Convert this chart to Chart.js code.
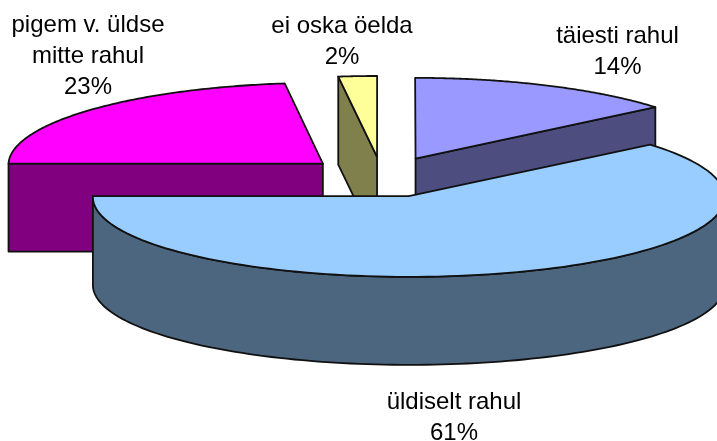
<!DOCTYPE html>
<html>
<head>
<meta charset="utf-8">
<style>
html, body { margin: 0; padding: 0; background: #fff; overflow: hidden; }
#wrap { width: 717px; height: 441px; position: relative; }
</style>
</head>
<body>
<div id="wrap"><canvas id="pie"></canvas></div>
<script src="https://cdn.jsdelivr.net/npm/chart.js@4/dist/chart.umd.min.js"></script>
<script>
const categories = ['täiesti rahul', 'üldiselt rahul', 'pigem v. üldse mitte rahul', 'ei oska öelda'];
const values = [14, 61, 23, 2];
const labelLines = [['täiesti rahul'], ['üldiselt rahul'], ['pigem v. üldse', 'mitte rahul'], ['ei oska öelda']];

const TOP_COLORS = ['#9999ff', '#99ccff', '#ff00ff', '#ffff99'];
const SIDE_COLORS = ['#4d4d80', '#4d6680', '#800080', '#80804d'];
const LABEL_X = [617.5, 454, 88, 342];
const LABEL_Y = [43, 409, 32, 33];
const LINE_H = 31;

const TILT = 0.2565; // squash of the pie plane
const SHRINK = 0.00004; // slight narrowing towards the back
const DEPTH = 88;    // height of the extruded wall
const DRAW_ORDER = [0, 2, 3, 1];

// Flattens the arcs chart.js laid out and extrudes them into a 3d pie
const pie3d = {
    id: 'pie3d',
    beforeDatasetsDraw(chart) {
        const ctx = chart.ctx;
        const arcs = chart.getDatasetMeta(0).data;
        ctx.save();
        ctx.lineWidth = 1.8;
        ctx.lineJoin = 'round';
        ctx.strokeStyle = '#111';
        for (const i of DRAW_ORDER) {
            const a = arcs[i];
            const mid = (a.startAngle + a.endAngle) / 2;
            const off = a.options.offset;
            const project = (u, v) => [a.x + u * (1 + v * SHRINK), a.y + v * TILT];
            const rim = t => project(Math.cos(mid) * off + Math.cos(t) * a.outerRadius,
                                     Math.sin(mid) * off + Math.sin(t) * a.outerRadius);
            const apex = project(Math.cos(mid) * off, Math.sin(mid) * off);
            const down = p => [p[0], p[1] + DEPTH];

            const poly = pts => {
                ctx.beginPath();
                pts.forEach((p, n) => n ? ctx.lineTo(p[0], p[1]) : ctx.moveTo(p[0], p[1]));
                ctx.closePath();
                ctx.fill();
                ctx.stroke();
            };

            ctx.fillStyle = SIDE_COLORS[i];
            // cut faces that look towards the viewer
            if (Math.sin(a.startAngle + Math.PI / 2) < 0) {
                const p = rim(a.startAngle);
                poly([apex, p, down(p), down(apex)]);
            }
            if (Math.sin(a.endAngle + Math.PI / 2) > 0) {
                const p = rim(a.endAngle);
                poly([apex, p, down(p), down(apex)]);
            }
            // outer wall, front half of the rim only
            const from = Math.max(a.startAngle, 0);
            const to = Math.min(a.endAngle, Math.PI);
            if (to > from) {
                const upper = [], lower = [];
                for (let n = 0; n <= 120; n++) {
                    const p = rim(from + (to - from) * n / 120);
                    upper.push(p);
                    lower.unshift(down(p));
                }
                poly(upper.concat(lower));
            }
            // top face
            ctx.fillStyle = TOP_COLORS[i];
            const top = [apex];
            for (let n = 0; n <= 120; n++) {
                top.push(rim(a.startAngle + (a.endAngle - a.startAngle) * n / 120));
            }
            poly(top);
        }
        ctx.restore();
        return false; // flat arcs are replaced by the 3d ones
    },
    afterDraw(chart) {
        const ctx = chart.ctx;
        ctx.save();
        ctx.fillStyle = '#000';
        ctx.font = '24px "Liberation Sans", Arial, sans-serif';
        ctx.textAlign = 'center';
        ctx.textBaseline = 'alphabetic';
        categories.forEach((c, i) => {
            const lines = labelLines[i].concat(values[i] + '%');
            lines.forEach((l, n) => ctx.fillText(l, LABEL_X[i], LABEL_Y[i] + n * LINE_H));
        });
        ctx.restore();
    }
};

new Chart(document.getElementById('pie'), {
    type: 'pie',
    data: {
        labels: categories,
        datasets: [{ data: values, backgroundColor: TOP_COLORS, borderWidth: 0, offset: 79 }]
    },
    options: {
        responsive: true,
        maintainAspectRatio: false,
        animation: false,
        radius: 315,
        layout: { padding: { left: 47, bottom: 87 } },
        plugins: { legend: { display: false }, tooltip: { enabled: false } }
    },
    plugins: [pie3d]
});
</script>
</body>
</html>
